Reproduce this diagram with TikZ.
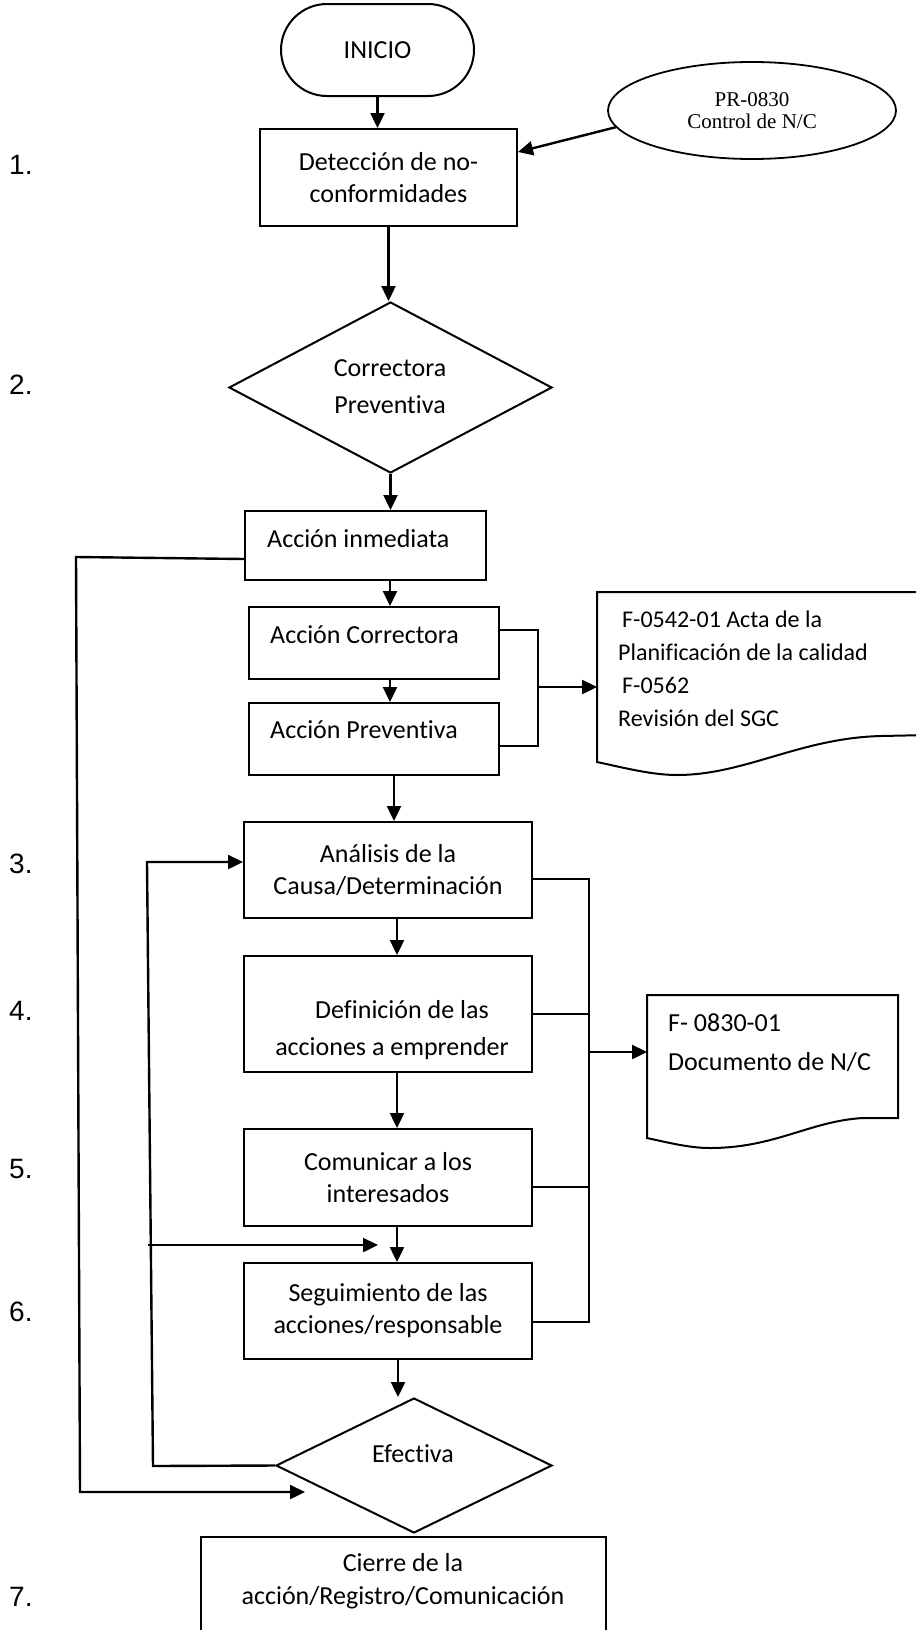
\documentclass[tikz,border=0pt]{standalone}
\usepackage{fontspec}
\setmainfont{Carlito}[Ligatures={NoCommon}]
\newfontfamily\notefont{Liberation Serif}
\newfontfamily\stepfont{Liberation Sans}
\usetikzlibrary{arrows.meta,shapes.geometric}
\begin{document}
\begin{tikzpicture}[x=1pt,y=-1pt,
  txt/.style={font=\fontsize{26}{32}\selectfont, inner sep=0pt, align=center},
  box/.style={draw, line width=2pt, inner sep=0pt},
  decision/.style={draw, diamond, line width=2pt, inner sep=0pt},
  flow/.style={line width=2.4pt, -{Triangle[length=15pt,width=14pt]}},
  link/.style={line width=2pt},
  stepno/.style={font=\stepfont\fontsize{28}{32}\selectfont, inner sep=0pt, anchor=west},
]
\useasboundingbox (0,0) rectangle (916,1630);
\clip (0,0) rectangle (916,1630);

% main column
\node[box, txt, rounded corners=46pt, minimum width=193pt, minimum height=92pt] (inicio) at (377.5,50) {INICIO};
\node[box, txt, minimum width=257pt, minimum height=97pt] (det) at (388.5,177.5) {Detección de no-\\conformidades};
\node[draw, ellipse, line width=1.8pt, minimum width=288pt, minimum height=97pt, inner sep=0pt, align=center,
      font=\notefont\fontsize{21}{22}\selectfont] (pr) at (752,110.5) {PR-0830\\Control de N/C};
\node[decision, minimum width=323pt, minimum height=171pt] (cp) at (390.5,387.5) {};
\node[txt, font=\fontsize{26}{37}\selectfont] (cp-t) at (390,386.5) {Correctora\\Preventiva};

\node[box, minimum width=241pt, minimum height=69pt] (ai) at (365.5,545.5) {};
\node[txt, anchor=west] (ai-t) at (267,539) {Acción inmediata};
\node[box, minimum width=250pt, minimum height=72pt] (ac) at (374,643) {};
\node[txt, anchor=west] (ac-t) at (270,635) {Acción Correctora};
\node[box, minimum width=250pt, minimum height=72pt] (ap) at (374,739) {};
\node[txt, anchor=west] (ap-t) at (270,730) {Acción Preventiva};

\node[box, txt, minimum width=288pt, minimum height=96pt] (an) at (388,870) {Análisis de la\\Causa/Determinación};
\node[box, minimum width=288pt, minimum height=116pt] (de) at (388,1014) {};
\node[txt, font=\fontsize{26}{37}\selectfont] (de-t) at (392,1030) {\hspace*{20pt}Definición de las\\acciones a emprender};
\node[box, txt, minimum width=288pt, minimum height=97pt] (co) at (388,1177.5) {Comunicar a los\\interesados};
\node[box, txt, minimum width=288pt, minimum height=96pt] (se) at (388,1311) {Seguimiento de las\\acciones/responsable};
\node[decision, minimum width=276pt, minimum height=135pt] (ef) at (414,1465.5) {};
\node[txt] (ef-t) at (413,1454) {Efectiva};
\node[box, minimum width=405pt, minimum height=130pt] (ci) at (403.5,1602) {};
\node[txt, font=\fontsize{26}{33}\selectfont] (ci-t) at (403,1581.5) {Cierre de la\\acción/Registro/Comunicación};

% document records
\draw[box] (930,735) -- (930,592) -- (597,592) -- (597,762)
  .. controls (625,768) and (652,775) .. (677,775)
  .. controls (745,775) and (800,738) .. (881,736) -- (930,735);
\coordinate (d1w) at (597,687);
\node[anchor=west, inner sep=0pt, align=left, font=\fontsize{24}{33}\selectfont] (d1-t) at (618,668.5)
  {\hspace*{4pt}F-0542-01 Acta de la\\Planificación de la calidad\\\hspace*{4pt}F-0562\\Revisión del SGC};

\draw[box] (898,1118) -- (898,995) -- (647,995) -- (647,1138)
  .. controls (670,1143) and (690,1148) .. (710,1148)
  .. controls (775,1148) and (810,1121) .. (863,1118) -- cycle;
\coordinate (d2w) at (647,1052);
\node[anchor=west, inner sep=0pt, align=left, font=\fontsize{26}{39}\selectfont] (d2-t) at (668,1042.5)
  {F- 0830-01\\Documento de N/C};

% main flow arrows
\draw[flow] (inicio.south) -- (inicio.south |- det.north);
\draw[flow] (pr.187) -- ([yshift=25.5pt]det.east);
\draw[flow] (det.south) -- (det.south |- cp.north);
\draw[flow] (cp.south) -- (cp.south |- ai.north);
\coordinate (sa) at (390,0);
\draw[flow] (ai.south -| sa) -- (ac.north -| sa);
\draw[flow] (ac.south -| sa) -- (ap.north -| sa);
\coordinate (sb) at (394,0);
\draw[flow] (ap.south -| sb) -- (an.north -| sb);
\coordinate (sc) at (397,0);
\draw[flow] (an.south -| sc) -- (de.north -| sc);
\draw[flow] (de.south -| sc) -- (co.north -| sc);
\draw[flow] (co.south -| sc) -- (se.north -| sc);
\coordinate (efa) at (398,1397);
\draw[flow] (se.south -| efa) -- (efa);

% bracket to the first record
\coordinate (brm) at (538,687);
\draw[link] ([yshift=13pt]ac.east) -| (brm) |- ([yshift=-7pt]ap.east);
\draw[flow] (brm) -- (d1w);

% bus to the second record
\coordinate (bt) at (589,879);
\coordinate (bb) at (589,1322);
\coordinate (bm) at (589,1052);
\draw[link] (an.east |- bt) -- (bt) -- (bb) -- (se.east |- bb);
\draw[link] (de.east) -- (de.east -| bt);
\draw[link] ([yshift=-9.5pt]co.east) -- ++(57,0);
\draw[flow] (bm) -- (d2w);

% feedback loops
\coordinate (ilb) at (153,1466);
\coordinate (ilt) at (147,862);
\draw[flow] (ef.west) -- (ilb) -- (ilt) -- ([yshift=8pt]an.west);
\coordinate (ilm) at (148,1245);
\coordinate (mrg) at (378,1245);
\draw[flow] (ilm) -- (mrg);
\coordinate (olt) at (76,557);
\coordinate (olb) at (80,1492);
\coordinate (efin) at (305,1492);
\draw[flow] ([yshift=-13.5pt]ai.west) -- (olt) -- (olb) -- (efin);

% step numbers
\node[stepno] (s1) at (9,165) {1.};
\node[stepno] (s2) at (9,385) {2.};
\node[stepno] (s3) at (9,864) {3.};
\node[stepno] (s4) at (9,1011) {4.};
\node[stepno] (s5) at (9,1169) {5.};
\node[stepno] (s6) at (9,1312) {6.};
\node[stepno] (s7) at (9,1597) {7.};
\end{tikzpicture}
\end{document}
